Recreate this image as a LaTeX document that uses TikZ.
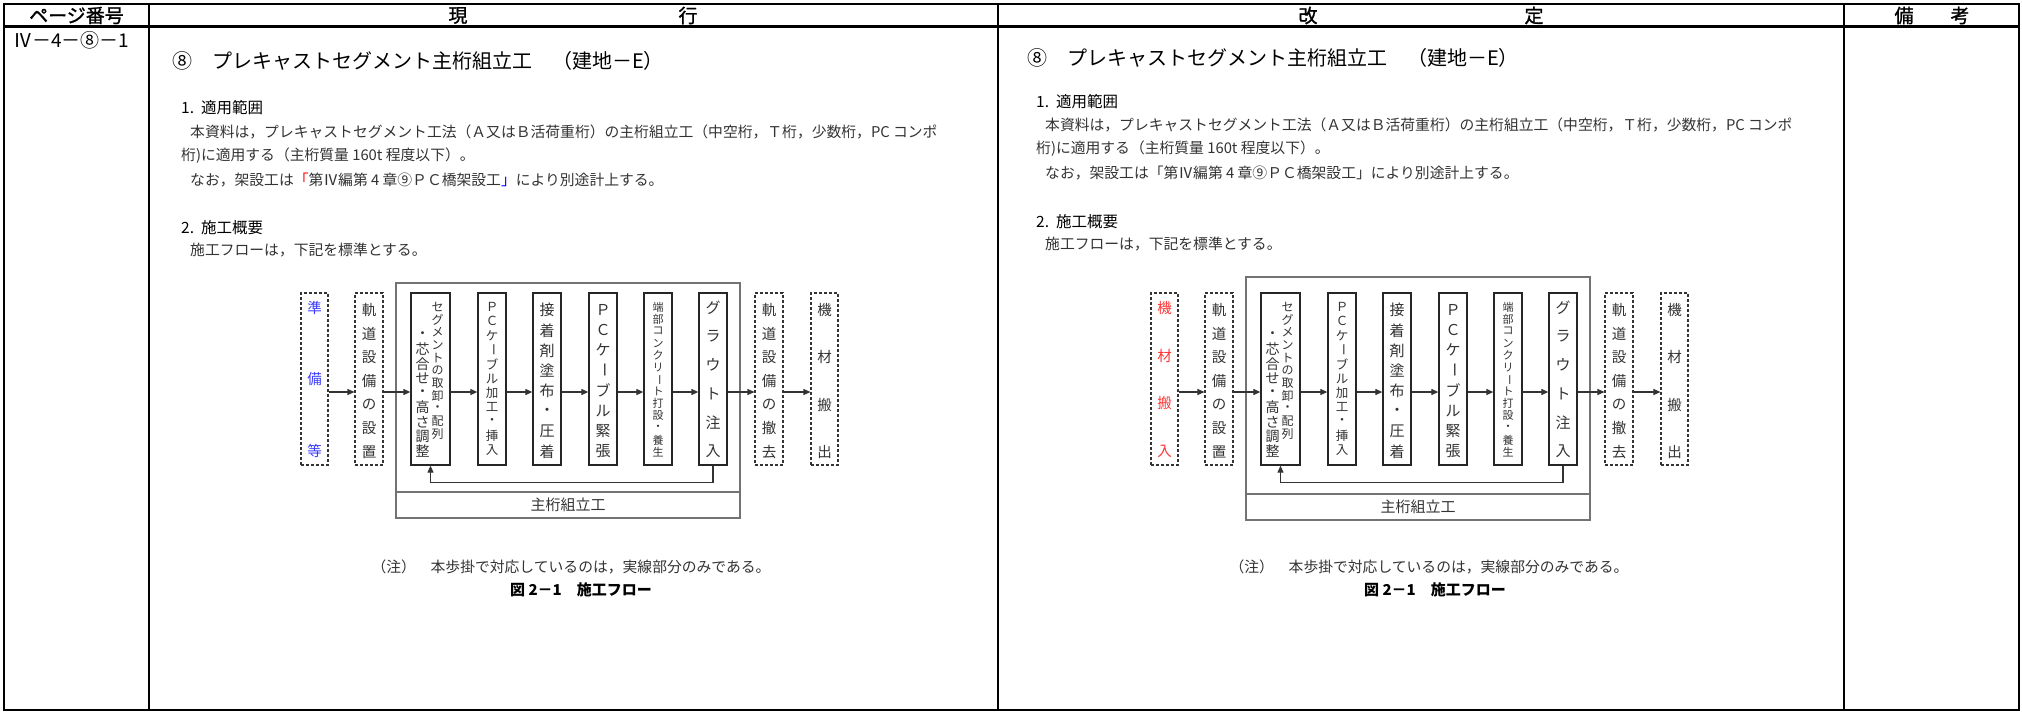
\documentclass[tikz,border=0pt]{standalone}
\usepackage{graphicx}
\usepackage{fontspec}
\setmainfont{Noto Sans CJK JP}
\newfontfamily\hdfont[FakeBold=1.2]{Noto Sans CJK JP}
\usetikzlibrary{arrows.meta}
\definecolor{txt}{HTML}{333333}
\definecolor{blu}{HTML}{3C3CFF}
\definecolor{rd}{HTML}{FF3535}
\newcommand\chon{\rotatebox[origin=c]{-90}{ー}}
\newcommand\fs[1]{\fontsize{#1}{#1}\selectfont}
% name, x, y first, y last, n, size, colour, list
\newcommand\vcol[8]{%
  \foreach \ch [count=\k from 0] in {#8} {
    \pgfmathsetmacro\yy{#3+(#4-#3)*\k/(#5-1)}
    \node[inner sep=0pt, font=\fs{#6}, text=#7] (#1-\k) at (#2,\yy) {\ch};
  }}
% prefix, first chars, first colour, n first, outer top, outer bottom
\newcommand\flowchart[6]{%
  \draw[obox] (396,#5) rectangle (740,#6);
  \node[obox, minimum width=344pt, minimum height=26pt, font=\fs{15}, text=txt] (#1band) at (568,#6-13) {主桁組立工};
  \node[dbox, minimum width=27pt] (#1L0) at (314.5,379) {};
  \node[dbox, minimum width=28pt] (#1L1) at (369,379) {};
  \node[sbox, minimum width=39pt] (#1B1) at (430.5,379) {};
  \node[sbox, minimum width=28pt] (#1B2) at (492,379) {};
  \node[sbox, minimum width=28pt] (#1B3) at (547,379) {};
  \node[sbox, minimum width=28pt] (#1B4) at (603,379) {};
  \node[sbox, minimum width=28pt] (#1B5) at (658,379) {};
  \node[sbox, minimum width=28pt] (#1B6) at (713,379) {};
  \node[dbox, minimum width=28pt] (#1L7) at (769,379) {};
  \node[dbox, minimum width=27pt] (#1L8) at (824.5,379) {};
  \vcol{#1c0}{314.5}{308}{451}{#4}{14.5}{#3}{#2}
  \vcol{#1c1}{369}{310}{452}{7}{14.5}{txt}{軌,道,設,備,の,設,置}
  \vcol{#1c2r}{437.5}{307}{434}{11}{12}{txt}{セ,グ,メ,ン,ト,の,取,卸,・,配,列}
  \vcol{#1c2l}{422.5}{335}{451}{9}{14}{txt}{・,芯,合,せ,・,高,さ,調,整}
  \vcol{#1c3}{492}{307}{450}{11}{12.5}{txt}{Ｐ,Ｃ,ケ,\chon,ブ,ル,加,工,・,挿,入}
  \vcol{#1c4}{547}{310}{452}{8}{15}{txt}{接,着,剤,塗,布,・,圧,着}
  \vcol{#1c5}{603}{310}{451}{8}{15}{txt}{Ｐ,Ｃ,ケ,\chon,ブ,ル,緊,張}
  \vcol{#1c6}{658}{307}{452}{13}{11}{txt}{端,部,コ,ン,ク,リ,\chon,ト,打,設,・,養,生}
  \vcol{#1c7}{713}{308}{451}{6}{15}{txt}{グ,ラ,ウ,ト,注,入}
  \vcol{#1c8}{769}{310}{452}{7}{14.5}{txt}{軌,道,設,備,の,撤,去}
  \vcol{#1c9}{824.5}{310}{452}{4}{14.5}{txt}{機,材,搬,出}
  \foreach \a/\b in {L0/L1,L1/B1,B1/B2,B2/B3,B3/B4,B4/B5,B5/B6,B6/L7,L7/L8}
    \draw[arr] ([yshift=-13pt]#1\a.east) -- ([yshift=-13pt]#1\b.west);
  \draw[arr] (#1B6.south) -- ++(0,17) -| (#1B1.south);
}
\begin{document}
\begin{tikzpicture}[x=1pt,y=-1pt,
  every node/.style={inner sep=0pt},
  tline/.style={line width=2.6pt, black},
  dline/.style={line width=2pt, black},
  sbox/.style={draw=black!85, line width=1.3pt, minimum height=172pt},
  dbox/.style={draw=black!80, line width=1.1pt, dash pattern=on 3pt off 2pt, minimum height=172pt},
  obox/.style={draw=black!55, line width=1.3pt},
  arr/.style={line width=1.1pt, black!80, -{Triangle[length=7pt,width=6pt]}},
  hd/.style={font=\hdfont\fs{19}},
  body/.style={font=\fs{14.8}, text=txt, anchor=west},
  hb/.style={font=\fs{15.5}, anchor=west},
  ttl/.style={font=\fs{20}, anchor=west},
]
\fill[white] (0,0) rectangle (2022,712);
\useasboundingbox (0,0) rectangle (2022,712);
% table
\draw[tline] (4,4) rectangle (2019,710);
\draw[tline] (4,26.5) -- (2019,26.5);
\draw[dline] (149,4) -- (149,710);
\draw[dline] (998,4) -- (998,710);
\draw[dline] (1844,4) -- (1844,710);
\node[hd] (h1) at (76.5,15.5) {ページ番号};
\node[hd] (h2a) at (458,15.5) {現};
\node[hd] (h2b) at (688,15.5) {行};
\node[hd] (h3a) at (1308,15.5) {改};
\node[hd] (h3b) at (1534,15.5) {定};
\node[hd] (h4a) at (1904,15.5) {備};
\node[hd] (h4b) at (1960,15.5) {考};
\node[font=\fs{19}, anchor=west] (pg) at (13,40) {Ⅳ－4－⑧－1};
% left column text
\node[ttl] (lt0) at (172,61) {⑧　プレキャストセグメント主桁組立工　（建地－E）};
\node[hb] (lt1) at (181,108) {1.\hspace{7pt}適用範囲};
\node[body] (lt2) at (190,132) {本資料は，プレキャストセグメント工法（Ａ又はＢ活荷重桁）の主桁組立工（中空桁，Ｔ桁，少数桁，PC コンポ};
\node[body] (lt3) at (181,156) {桁)に適用する（主桁質量 160t 程度以下）。};
\node[body] (lt4) at (190,180) {なお，架設工は{\color{red}「}第Ⅳ編第 4 章⑨ＰＣ橋架設工{\color{blue}」}により別途計上する。};
\node[hb] (lt5) at (181,228) {2.\hspace{7pt}施工概要};
\node[body] (lt6) at (190,250) {施工フローは，下記を標準とする。};
\flowchart{l}{準,備,等}{blu}{3}{283}{518}
\node[font=\fs{14.8}, text=txt] (lc1) at (571,567) {（注）　本歩掛で対応しているのは，実線部分のみである。};
\node[font=\fs{15}\bfseries] (lc2) at (581,590) {図 2－1　施工フロー};
% right column text
\node[ttl] (rt0) at (1027,58) {⑧　プレキャストセグメント主桁組立工　（建地－E）};
\node[hb] (rt1) at (1036,102) {1.\hspace{7pt}適用範囲};
\node[body] (rt2) at (1045,125) {本資料は，プレキャストセグメント工法（Ａ又はＢ活荷重桁）の主桁組立工（中空桁，Ｔ桁，少数桁，PC コンポ};
\node[body] (rt3) at (1036,149) {桁)に適用する（主桁質量 160t 程度以下）。};
\node[body] (rt4) at (1045,173) {なお，架設工は「第Ⅳ編第 4 章⑨ＰＣ橋架設工」により別途計上する。};
\node[hb] (rt5) at (1036,222) {2.\hspace{7pt}施工概要};
\node[body] (rt6) at (1045,244) {施工フローは，下記を標準とする。};
\begin{scope}[xshift=850pt]
\flowchart{r}{機,材,搬,入}{rd}{4}{277}{520}
\end{scope}
\node[font=\fs{14.8}, text=txt] (rc1) at (1429,567) {（注）　本歩掛で対応しているのは，実線部分のみである。};
\node[font=\fs{15}\bfseries] (rc2) at (1435,590) {図 2－1　施工フロー};
\end{tikzpicture}
\end{document}
